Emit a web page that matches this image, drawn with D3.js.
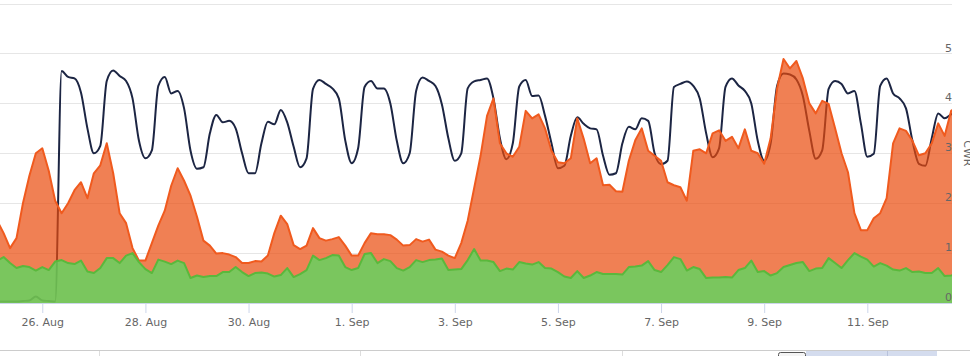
<!DOCTYPE html>
<html><head><meta charset="utf-8">
<script src="https://cdn.jsdelivr.net/npm/d3@7"></script>
<style>html,body{margin:0;padding:0;background:#fff;overflow:hidden}</style>
</head><body><svg id="c" width="970" height="356"></svg>
<script>
// ---- data ----
const pointStart = Date.UTC(2014, 7, 25, 3);   // first sample
const pointIntervalHours = 3;
const tickDates = ["2014-08-26","2014-08-28","2014-08-30","2014-09-01","2014-09-03","2014-09-05","2014-09-07","2014-09-09","2014-09-11"];
const tickLabels = ["26. Aug","28. Aug","30. Aug","1. Sep","3. Sep","5. Sep","7. Sep","9. Sep","11. Sep"];
const yTickValues = [0,1,2,3,4,5,6];
const yTickLabels = ["0","1","2","3","4","5",""];
const axisTitle = "CWR";

const navySeries = [
0.03,0.03,0.03,0.03,0.04,0.05,0.13,0.05,0.04,0.03,
4.65,4.53,4.5,4.22,3.5,3.0,3.15,4.45,4.66,4.55,
4.45,4.1,3.25,2.9,3.06,4.35,4.53,4.2,4.25,3.9,
3.05,2.69,2.72,3.4,3.77,3.62,3.65,3.5,3.0,2.6,
2.6,3.2,3.63,3.58,3.87,3.62,3.13,2.72,2.9,4.29,
4.47,4.39,4.3,4.1,3.26,2.8,3.1,4.33,4.45,4.3,
4.3,4.0,3.25,2.8,3.0,4.25,4.52,4.45,4.35,3.98,
3.3,2.85,3.0,4.3,4.44,4.47,4.5,4.1,3.3,2.88,
3.2,4.34,4.47,4.15,4.16,3.75,3.2,2.7,2.75,3.35,
3.72,3.59,3.5,3.48,2.95,2.57,2.6,3.2,3.53,3.48,
3.7,3.65,3.0,2.78,2.85,4.33,4.39,4.44,4.35,4.1,
3.4,2.92,3.1,4.33,4.5,4.36,4.25,4.0,3.25,2.85,
3.2,4.35,4.6,4.58,4.48,4.15,3.45,2.89,3.06,4.29,
4.45,4.39,4.2,4.25,3.6,2.93,2.99,4.35,4.5,4.2,
4.1,3.9,3.25,2.79,2.75,3.3,3.8,3.7,3.78,3.85];

const orangeSeries = [
1.65,1.4,1.1,1.3,2.0,2.55,3.0,3.1,2.65,2.05,
1.8,2.0,2.26,2.42,2.1,2.6,2.76,3.2,2.6,1.8,
1.6,1.1,0.85,0.85,1.2,1.55,1.85,2.35,2.7,2.45,
2.15,1.73,1.25,1.15,0.99,1.0,0.97,0.92,0.8,0.8,
0.84,0.83,0.95,1.4,1.75,1.58,1.16,1.08,1.15,1.5,
1.3,1.25,1.28,1.32,1.15,0.95,0.95,1.2,1.4,1.38,
1.38,1.36,1.27,1.15,1.16,1.28,1.23,1.27,1.07,1.03,
0.95,0.9,1.2,1.65,2.3,2.95,3.75,4.1,3.2,3.0,
2.93,3.13,3.85,3.7,3.78,3.5,3.05,2.82,2.8,2.9,
3.7,3.29,2.8,2.9,2.36,2.37,2.24,2.23,2.85,3.26,
3.5,3.05,2.95,2.85,2.42,2.36,2.32,2.05,3.05,3.08,
3.0,3.4,3.46,3.25,3.33,3.1,3.48,3.05,3.0,2.79,
3.3,4.3,4.89,4.7,4.85,4.5,4.0,3.8,4.05,3.99,
3.5,3.0,2.62,1.8,1.46,1.46,1.7,1.8,2.1,3.2,
3.5,3.45,3.25,2.96,3.0,3.2,3.6,3.35,3.85,3.95];

const greenSeries = [
0.85,0.92,0.8,0.7,0.74,0.72,0.65,0.72,0.66,0.83,
0.86,0.8,0.78,0.85,0.63,0.6,0.7,0.9,0.9,0.8,
0.95,1.0,0.82,0.68,0.6,0.87,0.83,0.78,0.85,0.8,
0.5,0.55,0.52,0.54,0.54,0.62,0.62,0.72,0.62,0.54,
0.6,0.61,0.59,0.53,0.56,0.7,0.52,0.58,0.66,0.95,
0.86,0.9,0.96,0.95,0.72,0.66,0.7,0.98,1.0,0.8,
0.88,0.84,0.7,0.65,0.72,0.86,0.82,0.86,0.87,0.89,
0.66,0.67,0.68,0.86,1.08,0.85,0.85,0.82,0.64,0.69,
0.67,0.82,0.79,0.77,0.82,0.7,0.69,0.62,0.53,0.5,
0.64,0.5,0.55,0.62,0.58,0.58,0.58,0.57,0.72,0.73,
0.75,0.84,0.66,0.62,0.76,0.92,0.88,0.65,0.72,0.68,
0.5,0.51,0.51,0.52,0.51,0.66,0.7,0.85,0.62,0.64,
0.55,0.6,0.72,0.76,0.8,0.82,0.64,0.69,0.7,0.9,
0.8,0.7,0.86,1.0,0.93,0.87,0.73,0.8,0.75,0.67,
0.65,0.7,0.62,0.63,0.6,0.6,0.7,0.54,0.55,0.58];

// ---- layout ----
const W = 970, H = 356;
const plot = {left: 0, right: 952, top: 3.6, bottom: 303};
const svg = d3.select("#c");

const x = d3.scaleUtc()
  .domain([Date.UTC(2014,7,25,4,19), Date.UTC(2014,8,12,15,25)])
  .range([plot.left, plot.right]);
const y = d3.scaleLinear().domain([0,6]).range([plot.bottom, plot.top]);

const t = i => new Date(pointStart + i*pointIntervalHours*3600e3);
const toPts = arr => arr.map((v,i)=>({t:t(i), v}));

// grid
const grid = svg.append("g");
yTickValues.forEach(v=>{
  const yy = Math.round(y(v)) + 0.5;
  if (v === 0) return;
  grid.append("line").attr("x1",plot.left).attr("x2",plot.right)
    .attr("y1",yy).attr("y2",yy).attr("stroke","#e6e6e6").attr("stroke-width",1);
});

// clip
svg.append("defs").append("clipPath").attr("id","pc")
  .append("rect").attr("x",plot.left).attr("y",0)
  .attr("width",plot.right-plot.left).attr("height",plot.bottom+1);

const g = svg.append("g").attr("clip-path","url(#pc)");

const line = d3.line().x(d=>x(d.t)).y(d=>y(d.v));
const smoothLine = d3.line().x(d=>x(d.t)).y(d=>y(d.v)).curve(d3.curveMonotoneX);
const area = d3.area().x(d=>x(d.t)).y0(y(0)).y1(d=>y(d.v));

// navy line (behind)
g.append("path").datum(toPts(navySeries)).attr("d",smoothLine)
  .attr("fill","none").attr("stroke","#1c2543").attr("stroke-width",2)
  .attr("stroke-linejoin","round");

// orange area
const oPts = toPts(orangeSeries);
g.append("path").datum(oPts).attr("d",area)
  .attr("fill","#ea4a0b").attr("fill-opacity",0.7);
g.append("path").datum(oPts).attr("d",line)
  .attr("fill","none").attr("stroke","#f05a1e").attr("stroke-width",2)
  .attr("stroke-linejoin","round");

// green area
const gPts = toPts(greenSeries);
g.append("path").datum(gPts).attr("d",area)
  .attr("fill","#53dd61").attr("fill-opacity",0.75);
g.append("path").datum(gPts).attr("d",line)
  .attr("fill","none").attr("stroke","#5ab83c").attr("stroke-width",2)
  .attr("stroke-linejoin","round");

// x axis
const xAxisG = svg.append("g").attr("transform",`translate(0,${plot.bottom})`);
const tickTimes = tickDates.map(s=>new Date(s+"T00:00:00Z"));
const xAxis = d3.axisBottom(x).tickValues(tickTimes)
  .tickFormat((d,i)=>tickLabels[i]).tickSize(10).tickPadding(5);
xAxisG.call(xAxis);
xAxisG.select(".domain").attr("stroke","#ccd6eb").attr("d",`M${plot.left},0.5H${plot.right}`);
xAxisG.selectAll(".tick line").attr("stroke","#ccd6eb");
xAxisG.selectAll(".tick text").attr("fill","#666").attr("font-family","DejaVu Sans")
  .attr("font-size","11px").attr("dy","0.71em");

// y axis labels (inside right)
const yAxisG = svg.append("g");
yTickValues.forEach((v,i)=>{
  yAxisG.append("text").attr("x",plot.right).attr("y",y(v)-2)
    .attr("text-anchor","end").attr("fill","#666")
    .attr("font-family","DejaVu Sans").attr("font-size","11px")
    .text(yTickLabels[i]);
});
// axis title (partly outside the frame, as in the reference)
svg.append("text").attr("transform",`translate(964,${(plot.top+plot.bottom)/2}) rotate(90)`)
  .attr("text-anchor","middle").attr("fill","#666")
  .attr("font-family","DejaVu Sans").attr("font-size","11px").text(axisTitle);

// navigator remnants at bottom
const nav = svg.append("g");
nav.append("line").attr("x1",0).attr("x2",W).attr("y1",350.5).attr("y2",350.5).attr("stroke","#cccccc");
[99.5,360.5,622.5].forEach(xx=>nav.append("line").attr("x1",xx).attr("x2",xx).attr("y1",351).attr("y2",H).attr("stroke","#dddddd"));
nav.append("rect").attr("x",806).attr("y",351).attr("width",131).attr("height",6).attr("fill","#d4dcee");
nav.append("line").attr("x1",887.5).attr("x2",887.5).attr("y1",351).attr("y2",H).attr("stroke","#b8c2dc");
nav.append("rect").attr("x",778.5).attr("y",352.5).attr("width",27).attr("height",10).attr("rx",2)
  .attr("fill","#f4f4f4").attr("stroke","#555");
</script></body></html>
